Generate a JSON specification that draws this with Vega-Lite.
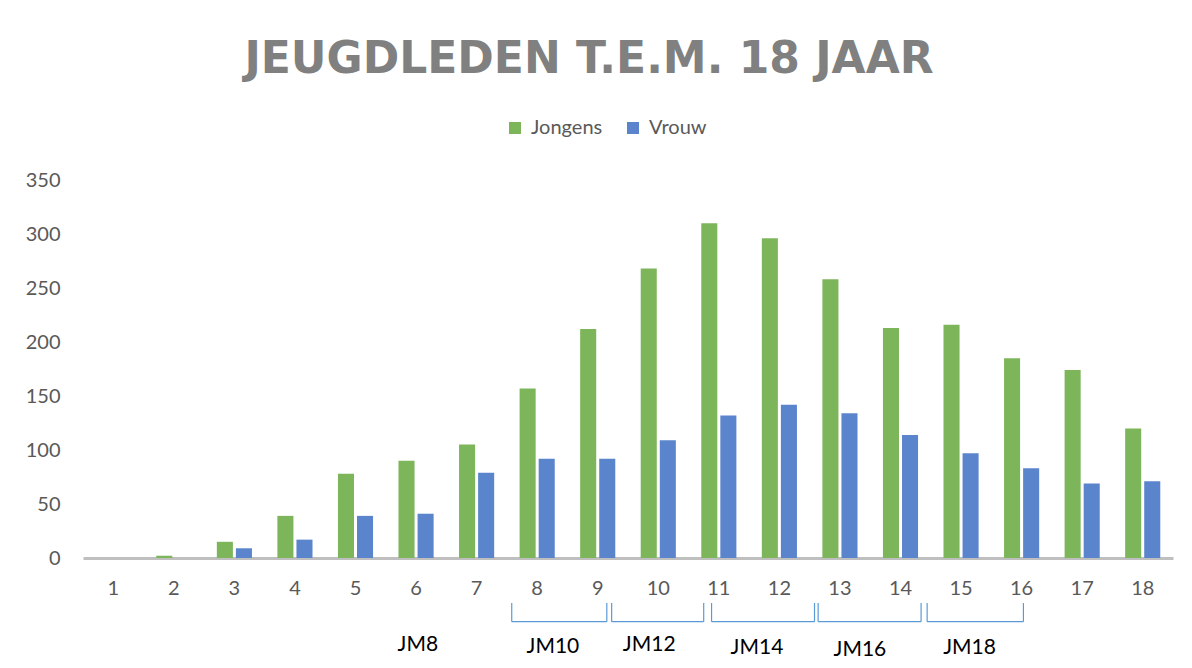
{
  "$schema": "https://vega.github.io/schema/vega-lite/v6.json",
  "autosize": "none",
  "width": 1090,
  "height": 378,
  "padding": {"left": 83, "top": 180, "right": 19, "bottom": 110},
  "background": "white",
  "title": {
    "text": "JEUGDLEDEN T.E.M. 18 JAAR",
    "font": "DejaVu Sans",
    "fontWeight": "bold",
    "fontSize": 44,
    "color": "#808080",
    "anchor": "middle",
    "offset": 36,
    "dx": -39
  },
  "datasets": {
    "leden": [
      {"leeftijd": 1, "geslacht": "Jongens", "aantal": 0},
      {"leeftijd": 1, "geslacht": "Vrouw", "aantal": 0},
      {"leeftijd": 2, "geslacht": "Jongens", "aantal": 2},
      {"leeftijd": 2, "geslacht": "Vrouw", "aantal": 0},
      {"leeftijd": 3, "geslacht": "Jongens", "aantal": 15},
      {"leeftijd": 3, "geslacht": "Vrouw", "aantal": 9},
      {"leeftijd": 4, "geslacht": "Jongens", "aantal": 39},
      {"leeftijd": 4, "geslacht": "Vrouw", "aantal": 17},
      {"leeftijd": 5, "geslacht": "Jongens", "aantal": 78},
      {"leeftijd": 5, "geslacht": "Vrouw", "aantal": 39},
      {"leeftijd": 6, "geslacht": "Jongens", "aantal": 90},
      {"leeftijd": 6, "geslacht": "Vrouw", "aantal": 41},
      {"leeftijd": 7, "geslacht": "Jongens", "aantal": 105},
      {"leeftijd": 7, "geslacht": "Vrouw", "aantal": 79},
      {"leeftijd": 8, "geslacht": "Jongens", "aantal": 157},
      {"leeftijd": 8, "geslacht": "Vrouw", "aantal": 92},
      {"leeftijd": 9, "geslacht": "Jongens", "aantal": 212},
      {"leeftijd": 9, "geslacht": "Vrouw", "aantal": 92},
      {"leeftijd": 10, "geslacht": "Jongens", "aantal": 268},
      {"leeftijd": 10, "geslacht": "Vrouw", "aantal": 109},
      {"leeftijd": 11, "geslacht": "Jongens", "aantal": 310},
      {"leeftijd": 11, "geslacht": "Vrouw", "aantal": 132},
      {"leeftijd": 12, "geslacht": "Jongens", "aantal": 296},
      {"leeftijd": 12, "geslacht": "Vrouw", "aantal": 142},
      {"leeftijd": 13, "geslacht": "Jongens", "aantal": 258},
      {"leeftijd": 13, "geslacht": "Vrouw", "aantal": 134},
      {"leeftijd": 14, "geslacht": "Jongens", "aantal": 213},
      {"leeftijd": 14, "geslacht": "Vrouw", "aantal": 114},
      {"leeftijd": 15, "geslacht": "Jongens", "aantal": 216},
      {"leeftijd": 15, "geslacht": "Vrouw", "aantal": 97},
      {"leeftijd": 16, "geslacht": "Jongens", "aantal": 185},
      {"leeftijd": 16, "geslacht": "Vrouw", "aantal": 83},
      {"leeftijd": 17, "geslacht": "Jongens", "aantal": 174},
      {"leeftijd": 17, "geslacht": "Vrouw", "aantal": 69},
      {"leeftijd": 18, "geslacht": "Jongens", "aantal": 120},
      {"leeftijd": 18, "geslacht": "Vrouw", "aantal": 71}
    ],
    "haken": [
      {"van": 7.58, "tot": 9.15, "boven": -41.7, "onder": -59},
      {"van": 9.23, "tot": 10.75, "boven": -41.7, "onder": -59},
      {"van": 10.88, "tot": 12.58, "boven": -41.7, "onder": -59},
      {"van": 12.64, "tot": 14.34, "boven": -41.7, "onder": -59},
      {"van": 14.44, "tot": 16.03, "boven": -41.7, "onder": -59}
    ],
    "groepen": [
      {"groep": "JM8", "midden": 6.03, "hoogte": -80.6},
      {"groep": "JM10", "midden": 8.26, "hoogte": -82.4},
      {"groep": "JM12", "midden": 9.85, "hoogte": -80.6},
      {"groep": "JM14", "midden": 11.63, "hoogte": -83.3},
      {"groep": "JM16", "midden": 13.33, "hoogte": -85.2},
      {"groep": "JM18", "midden": 15.14, "hoogte": -83.3}
    ]
  },
  "layer": [
    {
      "data": {"name": "leden"},
      "mark": {"type": "bar"},
      "encoding": {
        "x": {
          "field": "leeftijd",
          "type": "ordinal",
          "scale": {"paddingInner": 0.42, "paddingOuter": 0.21},
          "axis": {"title": null}
        },
        "xOffset": {
          "field": "geslacht",
          "type": "nominal",
          "sort": ["Jongens", "Vrouw"],
          "scale": {"paddingInner": 0.158}
        },
        "y": {
          "field": "aantal",
          "type": "quantitative",
          "scale": {"domain": [0, 350], "nice": false},
          "axis": {"title": null, "values": [0, 50, 100, 150, 200, 250, 300, 350]}
        },
        "color": {
          "field": "geslacht",
          "type": "nominal",
          "sort": ["Jongens", "Vrouw"],
          "scale": {"domain": ["Jongens", "Vrouw"], "range": ["#7DB55A", "#5A84CC"]},
          "legend": {
            "title": null,
            "orient": "none",
            "legendX": 422,
            "legendY": -62,
            "direction": "horizontal",
            "symbolType": "square",
            "symbolSize": 144,
            "symbolStrokeWidth": 0,
            "labelFont": "Lato",
            "labelFontSize": 20,
            "labelColor": "#595959",
            "labelOffset": 6,
            "columnPadding": 20
          }
        }
      }
    },
    {
      "data": {"name": "haken"},
      "mark": {"type": "rule", "color": "#5B9BD5", "strokeWidth": 1.2},
      "encoding": {
        "x": {"field": "van", "type": "quantitative", "scale": {"domain": [0.5, 18.5], "nice": false, "zero": false}, "axis": null},
        "x2": {"field": "tot"},
        "y": {"field": "onder", "type": "quantitative", "scale": {"domain": [0, 350], "nice": false}}
      }
    },
    {
      "data": {"name": "haken"},
      "mark": {"type": "rule", "color": "#5B9BD5", "strokeWidth": 1.2},
      "encoding": {
        "x": {"field": "van", "type": "quantitative", "scale": {"domain": [0.5, 18.5], "nice": false, "zero": false}, "axis": null},
        "y": {"field": "boven", "type": "quantitative", "scale": {"domain": [0, 350], "nice": false}},
        "y2": {"field": "onder"}
      }
    },
    {
      "data": {"name": "haken"},
      "mark": {"type": "rule", "color": "#5B9BD5", "strokeWidth": 1.2},
      "encoding": {
        "x": {"field": "tot", "type": "quantitative", "scale": {"domain": [0.5, 18.5], "nice": false, "zero": false}, "axis": null},
        "y": {"field": "boven", "type": "quantitative", "scale": {"domain": [0, 350], "nice": false}},
        "y2": {"field": "onder"}
      }
    },
    {
      "data": {"name": "groepen"},
      "mark": {"type": "text", "font": "Lato", "fontSize": 21, "color": "#000000", "baseline": "middle", "align": "center"},
      "encoding": {
        "x": {"field": "midden", "type": "quantitative", "scale": {"domain": [0.5, 18.5], "nice": false, "zero": false}, "axis": null},
        "y": {"field": "hoogte", "type": "quantitative", "scale": {"domain": [0, 350], "nice": false}},
        "text": {"field": "groep"}
      }
    }
  ],
  "resolve": {"scale": {"x": "independent"}, "axis": {"x": "independent"}},
  "config": {
    "view": {"stroke": null},
    "axis": {
      "grid": false,
      "ticks": false,
      "labelFont": "Lato",
      "labelFontSize": 20,
      "labelColor": "#595959"
    },
    "axisY": {"domain": false, "labelPadding": 23},
    "axisX": {"domainColor": "#BFBFBF", "domainWidth": 3, "labelPadding": 20, "labelAngle": 0}
  }
}
